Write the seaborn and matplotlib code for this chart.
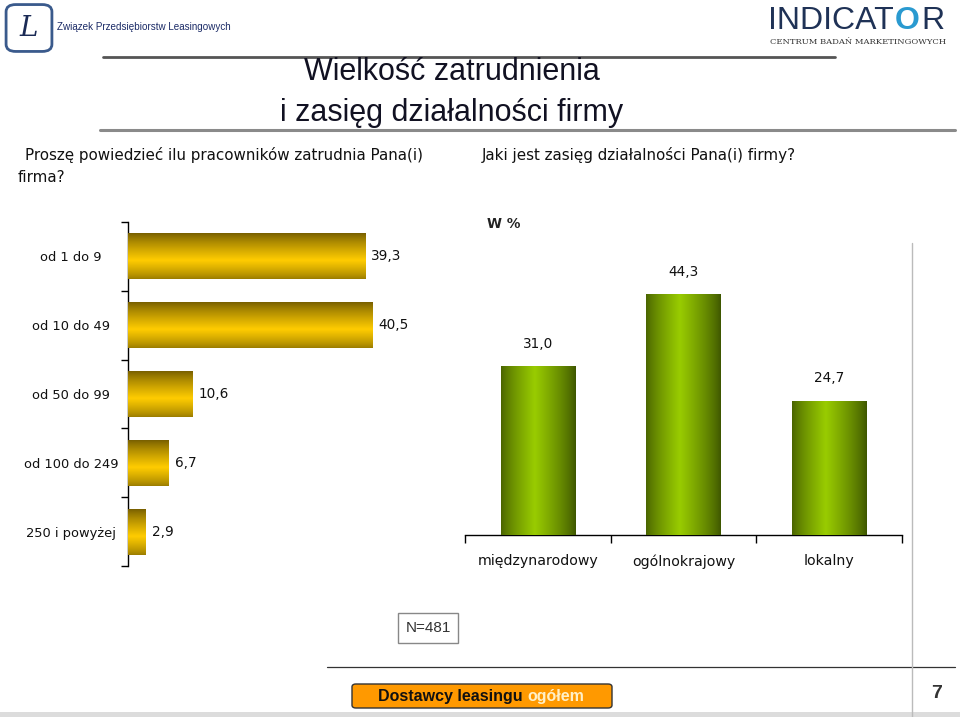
import numpy as np
import pandas as pd
import seaborn as sns
import matplotlib.pyplot as plt
from matplotlib.patches import FancyBboxPatch, Rectangle
from matplotlib.lines import Line2D
from matplotlib.colors import to_rgb

# dane z wykresu
size_labels = ["od 1 do 9", "od 10 do 49", "od 50 do 99", "od 100 do 249", "250 i powyżej"]
size_values = [39.3, 40.5, 10.6, 6.7, 2.9]

range_labels = ["międzynarodowy", "ogólnokrajowy", "lokalny"]
range_values = [31.0, 44.3, 24.7]

W, H = 960, 717

sns.set_theme(style="white")
plt.rcParams['font.family'] = ['DejaVu Sans']

fig = plt.figure(figsize=(W / 100, H / 100), dpi=100)


def px(x, y):
    return x / W, 1 - y / H


def box(x0, y0, x1, y1):
    return [x0 / W, 1 - y1 / H, (x1 - x0) / W, (y1 - y0) / H]


def fmt(v):
    return f"{v:.1f}".replace(".", ",")


def gradient_fill(ax, patch, c_dark, c_light, peak, vertical, c_dark2=None):
    # gradient nałożony na słupek, przycięty do jego kształtu
    c_dark2 = c_dark if c_dark2 is None else c_dark2
    t = np.linspace(0, 1, 100)
    d1, d2, li = np.array(to_rgb(c_dark)), np.array(to_rgb(c_dark2)), np.array(to_rgb(c_light))
    cols = []
    for v in t:
        if v <= peak:
            f = (v / peak) ** 0.8
            cols.append(d1 + (li - d1) * f)
        else:
            f = ((1 - v) / (1 - peak)) ** 0.8
            cols.append(d2 + (li - d2) * f)
    cols = np.array(cols)
    img = cols[:, None, :] if vertical else cols[None, :, :]
    x, y = patch.get_x(), patch.get_y()
    w, h = patch.get_width(), patch.get_height()
    if vertical:
        # y rośnie w dół (oś odwrócona) -> górna krawędź to y
        extent = (x, x + w, y + h, y)
    else:
        extent = (x, x + w, y, y + h)
    im = ax.imshow(img, extent=extent, aspect="auto", zorder=3, origin="upper")
    im.set_clip_path(patch)


# --- lewy wykres: liczba pracowników ---
df_size = pd.DataFrame({"kat": size_labels, "val": size_values})
ax1 = fig.add_axes(box(128, 222, 430, 566))
sns.barplot(data=df_size, x="val", y="kat", orient="h", ax=ax1, width=0.67,
            color="#ffcc00", saturation=1)
ax1.set_xlim(0, 50)
ax1.set_ylim(4.5, -0.5)
for p in ax1.patches:
    p.set_edgecolor("none")
    gradient_fill(ax1, p, "#6e5800", "#ffcc00", 0.6, True, "#9a7c00")
for i, v in enumerate(size_values):
    ax1.text(v + 1.0, i, fmt(v), va="center", ha="left", fontsize=9.8, color="#111111")
ax1.set_xlabel("")
ax1.set_ylabel("")
ax1.set_xticks([])
ax1.set_yticks(range(len(size_labels)))
ax1.set_yticklabels(size_labels, fontsize=9.4, color="#111111", ha="center")
ax1.set_yticks(np.arange(-0.5, 5.0, 1.0), minor=True)
ax1.tick_params(axis="y", which="major", length=0, pad=41)
ax1.tick_params(axis="y", which="minor", length=5, width=1, color="#000000", direction="out", left=True)
for s in ["top", "right", "bottom"]:
    ax1.spines[s].set_visible(False)
ax1.spines["left"].set_color("#000000")
ax1.spines["left"].set_linewidth(1)
ax1.patch.set_alpha(0)

# --- prawy wykres: zasięg działalności ---
df_range = pd.DataFrame({"kat": range_labels, "val": range_values})
ax2 = fig.add_axes(box(465, 236, 902, 535))
sns.barplot(data=df_range, x="kat", y="val", ax=ax2, width=0.51,
            color="#99cc00", saturation=1)
ax2.set_xlim(-0.5, 2.5)
ax2.set_ylim(0, 55)
for p in ax2.patches:
    p.set_edgecolor("none")
    gradient_fill(ax2, p, "#4a6400", "#99cc00", 0.45, False, "#3e5600")
for i, v in enumerate(range_values):
    ax2.text(i, v + 2.8, fmt(v), ha="center", va="bottom", fontsize=9.8, color="#111111")
ax2.set_xlabel("")
ax2.set_ylabel("")
ax2.set_yticks([])
ax2.set_xticks(range(len(range_labels)))
ax2.set_xticklabels(range_labels, fontsize=10.2, color="#111111")
ax2.set_xticks(np.arange(-0.5, 3.0, 1.0), minor=True)
ax2.tick_params(axis="x", which="major", length=0, pad=14)
ax2.tick_params(axis="x", which="minor", length=6, width=1, color="#000000", direction="out", bottom=True)
for s in ["top", "right", "left"]:
    ax2.spines[s].set_visible(False)
ax2.spines["bottom"].set_color("#000000")
ax2.spines["bottom"].set_linewidth(1)
ax2.patch.set_alpha(0)
fig.text(*px(487, 224), "W %", fontsize=9.8, fontweight="bold", color="#222222", va="center")

# --- nagłówek i linie ---
fig.add_artist(Line2D([103 / W, 835 / W], [1 - 57 / H] * 2, color="#555555", lw=2))
fig.add_artist(Line2D([100 / W, 955 / W], [1 - 130 / H] * 2, color="#8a8a8a", lw=2.2))
fig.add_artist(Line2D([327 / W, 955 / W], [1 - 667 / H] * 2, color="#333333", lw=0.9))
fig.add_artist(Line2D([912 / W, 912 / W], [1 - 243 / H, 0], color="#bbbbbb", lw=1))
fig.add_artist(Rectangle((0, 0), 1, 5 / H, transform=fig.transFigure,
                         facecolor="#dcdcdc", edgecolor="none"))

fig.text(*px(452, 72), "Wielkość zatrudnienia", fontsize=22, family="Liberation Sans",
         color="#111122", ha="center", va="center")
fig.text(*px(452, 113), "i zasięg działalności firmy", fontsize=22, family="Liberation Sans",
         color="#111122", ha="center", va="center")

fig.text(*px(25, 155), "Proszę powiedzieć ilu pracowników zatrudnia Pana(i)",
         fontsize=10.9, color="#111111", va="center")
fig.text(*px(18, 177), "firma?", fontsize=10.9, color="#111111", va="center")
fig.text(*px(482, 155), "Jaki jest zasięg działalności Pana(i) firmy?",
         fontsize=10.9, color="#111111", va="center")

# logo ZPL
fig.add_artist(FancyBboxPatch((8 / W, 1 - 50 / H), 42 / W, 44 / H, transform=fig.transFigure,
                              boxstyle="round,pad=0.002,rounding_size=0.01",
                              facecolor="white", edgecolor="#3a5a8c", lw=2))
fig.text(*px(29, 28), "L", fontsize=20, family="DejaVu Serif", style="italic",
         color="#1a2a55", ha="center", va="center")
fig.text(*px(57, 27), "Związek Przedsiębiorstw Leasingowych", fontsize=7.1,
         family="Liberation Sans", color="#1a2a66", va="center")

# logo INDICATOR
fig.text(*px(768, 21), "INDICAT", fontsize=23, family="Liberation Sans",
         color="#1f3256", va="center", ha="left")
fig.text(*px(907, 21), "O", fontsize=23, family="Liberation Sans", fontweight="bold",
         color="#2a9ad0", va="center", ha="center")
fig.text(*px(921, 21), "R", fontsize=23, family="Liberation Sans",
         color="#1f3256", va="center", ha="left")
fig.text(*px(858, 42), "CENTRUM BADAŃ MARKETINGOWYCH", fontsize=6, family="DejaVu Serif",
         color="#333333", va="center", ha="center")

# N=481
fig.text(*px(428, 628), "N=481", fontsize=11, family="Liberation Sans", color="#333333",
         ha="center", va="center",
         bbox=dict(boxstyle="square,pad=0.5", facecolor="white", edgecolor="#888888", lw=1))

# stopka
fig.add_artist(FancyBboxPatch((352 / W, 1 - 708 / H), 260 / W, 24 / H, transform=fig.transFigure,
                              boxstyle="round,pad=0,rounding_size=0.004",
                              facecolor="#ff9900", edgecolor="#333333", lw=1))
t1 = fig.text(*px(378, 696), "Dostawcy leasingu ", fontsize=11.5, family="Liberation Sans",
              fontweight="bold", color="#111111", va="center")
fig.canvas.draw()
bb = t1.get_window_extent()
fig.text(bb.x1 / W, 1 - 696 / H, "ogółem", fontsize=11.5, family="Liberation Sans",
         fontweight="bold", color="#fff0c8", va="center")
fig.text(*px(942, 693), "7", fontsize=14, family="Liberation Sans", fontweight="bold",
         color="#333333", va="center", ha="right")

fig.savefig("out.png", dpi=100)
